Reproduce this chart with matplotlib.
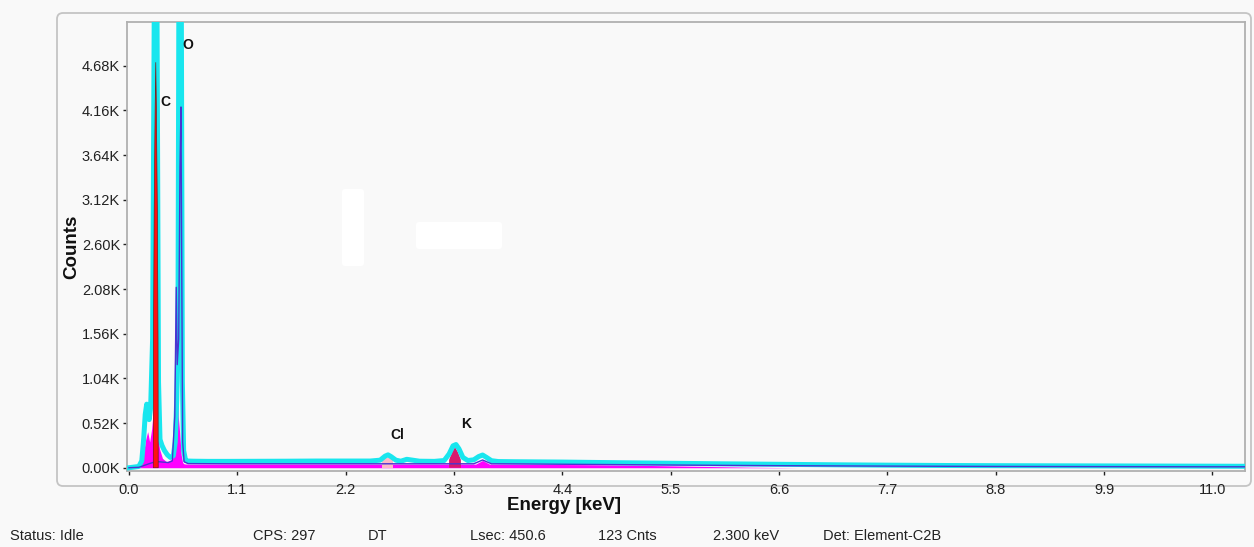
import matplotlib
matplotlib.use("Agg")
import matplotlib.pyplot as plt
from matplotlib.patches import FancyBboxPatch
from matplotlib.ticker import FuncFormatter

plt.rcParams['font.family'] = ['Liberation Sans', 'DejaVu Sans']

# ---------------- data ----------------
# measured spectrum (cyan outline)
energy_total = [0.00, 0.10, 0.13, 0.15, 0.165, 0.18, 0.19, 0.205, 0.22, 0.240,
                0.256, 0.266, 0.276, 0.285, 0.300, 0.315, 0.335, 0.36, 0.39, 0.42,
                0.45, 0.470, 0.485, 0.497, 0.506, 0.514, 0.524, 0.532, 0.542, 0.555,
                0.575, 0.60, 0.65, 0.80, 1.00, 1.30, 1.60, 1.90, 2.20, 2.45,
                2.55, 2.60, 2.63, 2.66, 2.71, 2.76, 2.82, 2.88, 2.95, 3.10,
                3.20, 3.25, 3.29, 3.32, 3.35, 3.39, 3.44, 3.50, 3.55, 3.59,
                3.63, 3.68, 3.75, 3.90, 4.40, 5.00, 5.50, 6.00, 6.60, 7.20,
                7.70, 8.30, 8.80, 9.90, 11.0, 11.35]
counts_total = [0, 15, 80, 350, 620, 740, 650, 560, 700, 1500,
                5200, 14000, 14000, 5200, 1000, 330, 260, 200, 150, 120,
                140, 300, 800, 1500, 5200, 14000, 14000, 5200, 1000, 200,
                85, 78, 76, 74, 74, 75, 76, 78, 78, 78,
                88, 135, 150, 130, 88, 76, 98, 88, 76, 74,
                84, 160, 255, 270, 220, 120, 84, 92, 130, 148,
                120, 82, 72, 70, 66, 58, 52, 46, 40, 34,
                30, 26, 24, 21, 18, 17]

# magenta filled component
energy_mag = [0.00, 0.11, 0.14, 0.17, 0.19, 0.21, 0.23, 0.25, 0.27, 0.29,
              0.31, 0.34, 0.38, 0.42, 0.44, 0.46, 0.475, 0.49, 0.50, 0.515,
              0.53, 0.545, 0.56, 0.60, 1.00, 2.00, 3.00, 3.52, 3.59, 3.66,
              4.00, 4.60, 5.20, 5.80, 6.30, 6.80, 11.35]
counts_mag = [0, 0, 120, 330, 420, 300, 450, 700, 600, 400,
              220, 110, 70, 90, 100, 500, 1750, 1500, 600, 400,
              150, 60, 45, 42, 42, 42, 42, 42, 85, 42,
              40, 36, 28, 16, 6, 0, 0]

# dark violet line
energy_pur = [0.00, 0.10, 0.15, 0.20, 0.24, 0.30, 0.35, 0.40, 0.44, 0.465,
              0.48, 0.49, 0.505, 0.518, 0.528, 0.535, 0.545, 0.56, 0.60, 1.00,
              1.50, 2.00, 2.60, 3.00, 3.50, 3.59, 3.68, 4.00, 4.50, 5.00,
              5.50, 6.00, 6.60, 7.70, 8.80, 9.90, 11.00, 11.35]
counts_pur = [0, 5, 25, 45, 60, 70, 65, 60, 80, 600,
              2100, 1200, 1500, 3500, 4200, 2500, 300, 70, 48, 46,
              46, 46, 46, 46, 46, 90, 46, 44, 40, 36,
              32, 28, 24, 19, 15, 13, 11, 11]

# carbon peak (red)
energy_c = [0.247, 0.249, 0.256, 0.266, 0.272, 0.278, 0.288, 0.295, 0.297]
counts_c = [0, 1500, 3000, 4200, 4720, 4200, 3000, 1500, 0]

# chlorine marker (pink) and potassium peak (crimson)
energy_cl = [2.57, 2.57, 2.68, 2.68]
counts_cl = [0, 115, 115, 0]
energy_k = [3.25, 3.25, 3.28, 3.31, 3.34, 3.37, 3.37]
counts_k = [0, 90, 180, 240, 180, 90, 0]

element_names = ['C', 'O', 'Cl', 'K']
element_label_x = [0.365, 0.60, 2.72, 3.42]
element_label_y = [4260, 4920, 385, 505]

x_ticks = [0.0, 1.1, 2.2, 3.3, 4.4, 5.5, 6.6, 7.7, 8.8, 9.9, 11.0]
y_ticks = [0, 520, 1040, 1560, 2080, 2600, 3120, 3640, 4160, 4680]

status_texts = ['Status: Idle', 'CPS: 297', 'DT', 'Lsec: 450.6', '123 Cnts',
                '2.300 keV', 'Det: Element-C2B']
status_x_px = [10, 253, 368, 470, 598, 713, 823]

# ---------------- figure ----------------
W, H = 1254, 547
bg = '#f9f9f9'
fig = plt.figure(figsize=(W / 100, H / 100), dpi=100, facecolor=bg)

# outer rounded panel (outline only)
panel = FancyBboxPatch((0.57, 0.61), 11.94, 4.73,
                       boxstyle='round,pad=0,rounding_size=0.06',
                       transform=fig.dpi_scale_trans, facecolor='none',
                       edgecolor='#c4c4c4', linewidth=1.3, zorder=-1)
fig.patches.append(panel)

ax = fig.add_axes([127 / W, 1 - 471 / H, (1245 - 127) / W, (471 - 22) / H])
ax.set_facecolor(bg)

ax.fill_between(energy_mag, counts_mag, 0, color='#ff00ff', linewidth=0, zorder=1)
ax.fill(energy_cl, counts_cl, color='#ffb8c8', linewidth=0, zorder=2)
ax.fill(energy_k, counts_k, color='#d81a6e', linewidth=0, zorder=2)
ax.plot(energy_total, counts_total, color='#19e6ee', linewidth=3.6,
        solid_joinstyle='round', zorder=3)
ax.plot(energy_pur, counts_pur, color='#4a34d0', linewidth=1.0, zorder=4)
ax.fill(energy_c, counts_c, facecolor='#ff1010', edgecolor='#7a1a1a',
        linewidth=0.5, zorder=5)

for name, xx, yy in zip(element_names, element_label_x, element_label_y):
    ax.text(xx, yy, name, fontsize=10, fontweight='bold', color='#111111',
            ha='center', va='center', zorder=6)

ax.set_xlim(-0.02, 11.33)
ax.set_ylim(-38, 5189)
ax.set_xticks(x_ticks)
ax.set_xticklabels([f'{v:.1f}' for v in x_ticks])
ax.set_yticks(y_ticks)
ax.yaxis.set_major_formatter(FuncFormatter(lambda v, p: f'{v / 1000:.2f}K'))
ax.tick_params(axis='both', labelsize=10.5, colors='#222222', length=3,
               width=1, pad=2)
ax.tick_params(axis='x', pad=6)
for s in ax.spines.values():
    s.set_color('#b0b0b0')
    s.set_linewidth(1.3)

fig.text(564 / W, 1 - 506 / H, 'Energy [keV]', fontsize=13.5, fontweight='bold',
         ha='center', va='center', color='#111111')
ax.set_ylabel('Counts', fontsize=13.5, fontweight='bold', labelpad=1,
              color='#111111')

# blanked-out areas inside the plot
for (x0, y0, x1, y1) in [(342, 189, 364, 266), (416, 222, 502, 249)]:
    fig.patches.append(FancyBboxPatch((x0 / 100, (H - y1) / 100), (x1 - x0) / 100,
                                      (y1 - y0) / 100,
                                      boxstyle='round,pad=0,rounding_size=0.03',
                                      transform=fig.dpi_scale_trans,
                                      facecolor='white', edgecolor='none',
                                      zorder=10))

for t, xp in zip(status_texts, status_x_px):
    fig.text(xp / W, 1 - 536 / H, t, fontsize=10.5, color='#222222',
             ha='left', va='center')

fig.savefig('out.png', dpi=100, facecolor=bg)
